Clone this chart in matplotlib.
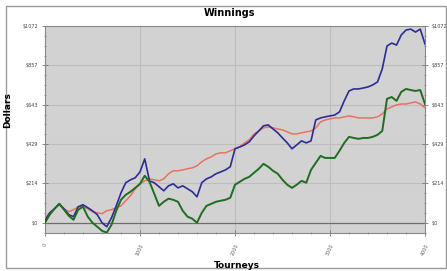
import matplotlib
matplotlib.use("Agg")
import matplotlib.pyplot as plt
from matplotlib.patches import Rectangle
from matplotlib.ticker import AutoMinorLocator

tourneys = list(range(0, 4001, 50))

blue = [11, 54, 76, 103, 76, 44, 33, 87, 98, 82, 65, 44, 0, -22, 27, 92, 163, 218, 234, 245,
        277, 348, 228, 218, 196, 174, 201, 212, 190, 201, 185, 169, 141, 218, 239, 250, 267, 277, 288, 305,
        403, 413, 424, 441, 473, 500, 528, 533, 511, 490, 462, 435, 403, 424, 446, 435, 446, 560, 571, 577,
        582, 587, 604, 664, 718, 729, 729, 734, 740, 751, 767, 838, 963, 979, 968, 1023, 1050, 1055, 1039, 1055,
        974]

green = [0, 44, 76, 103, 71, 38, 16, 71, 87, 33, 0, -22, -44, -54, -11, 65, 125, 152, 169, 190,
         212, 256, 223, 158, 92, 114, 131, 125, 114, 65, 33, 22, 0, 54, 92, 103, 114, 120, 125, 136,
         207, 223, 239, 250, 272, 294, 321, 305, 283, 267, 234, 207, 190, 207, 228, 218, 288, 326, 364, 353,
         353, 353, 392, 435, 468, 462, 457, 462, 462, 468, 479, 500, 675, 685, 664, 713, 729, 723, 718, 723,
         647]

red = [22, 54, 76, 98, 76, 60, 71, 87, 87, 76, 60, 54, 49, 65, 71, 82, 92, 120, 147, 185,
       212, 228, 239, 234, 228, 239, 267, 283, 283, 288, 294, 299, 310, 332, 348, 359, 375, 381, 381, 392,
       403, 413, 435, 452, 484, 500, 517, 522, 517, 511, 506, 495, 484, 484, 490, 495, 500, 517, 549, 560,
       566, 571, 571, 577, 582, 577, 571, 571, 571, 571, 577, 593, 620, 631, 642, 647, 647, 653, 658, 647,
       626]

x_ticks = [0, 1000, 2000, 3000, 4000]
y_ticks = [0, 214.4, 428.8, 643.2, 857.6, 1072]
y_labels = ['$0', '$214', '$429', '$643', '$857', '$1072']

W, H = 447, 271
fig = plt.figure(figsize=(W / 100, H / 100), dpi=100)
fig.patch.set_facecolor('white')
fig.patches.append(Rectangle((6 / W, 3 / H), 440 / W, 262 / H, transform=fig.transFigure,
                             fill=False, edgecolor='#9a9a9a', linewidth=1.0))

ax = fig.add_axes([45 / W, 1 - 233 / H, 380 / W, 207 / H])
ax.set_facecolor('#d2d2d2')
ax.set_xlim(0, 4000)
ax.set_ylim(-56, 1072)

for yt in y_ticks[1:]:
    ax.axhline(yt, color='#bdbdbd', lw=0.8, zorder=1)
for xt in x_ticks[1:-1]:
    ax.axvline(xt, color='#bdbdbd', lw=0.8, zorder=1)
ax.axhline(0, color='#6e6e6e', lw=0.9, zorder=1)

ax.plot(tourneys, red, color='#e8735f', lw=1.1, zorder=3)
ax.plot(tourneys, blue, color='#2c2c96', lw=1.2, zorder=4)
ax.plot(tourneys, green, color='#1f6e1f', lw=1.4, zorder=5)

ax.set_xticks(x_ticks)
ax.set_xticklabels([str(v) for v in x_ticks], rotation=65, fontsize=3.5, color='#666666')
ax.set_yticks(y_ticks)
ax.set_yticklabels(y_labels, fontsize=3.5, color='#444444')
ax.xaxis.set_minor_locator(AutoMinorLocator(5))
ax.yaxis.set_minor_locator(AutoMinorLocator(4))
ax.tick_params(which='both', direction='inout', color='#777777', right=True, labelright=True)
ax.tick_params(axis='x', pad=5)
ax.tick_params(axis='y', pad=3)
ax.tick_params(which='major', length=4, width=0.6)
ax.tick_params(which='minor', length=2, width=0.5)
for sp in ax.spines.values():
    sp.set_color('#888888')
    sp.set_linewidth(0.8)

fig.text(229 / W, 1 - 13 / H, 'Winnings', ha='center', va='center', fontsize=7, fontweight='bold')
fig.text(8 / W, 1 - 110 / H, 'Dollars', ha='center', va='center', rotation=90, fontsize=6.5, fontweight='bold')
fig.text(237 / W, 1 - 265 / H, 'Tourneys', ha='center', va='center', fontsize=6.5, fontweight='bold')

fig.savefig('out.png', dpi=100)
